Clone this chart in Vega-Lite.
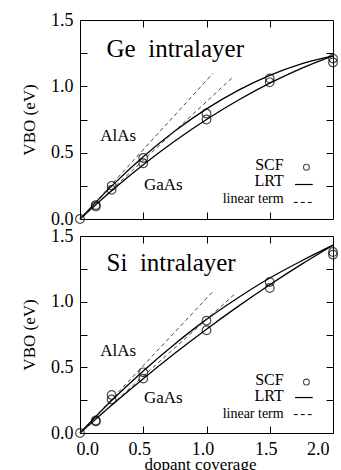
{
  "$schema": "https://vega.github.io/schema/vega-lite/v6.json",
  "padding": {"left": 20, "top": 10, "right": 3, "bottom": 0},
  "spacing": 17,
  "bounds": "flush",
  "config": {
    "font": "Liberation Serif",
    "view": {"stroke": "black", "strokeWidth": 1},
    "axis": {"domain": false, "grid": false, "tickColor": "black", "labelColor": "black", "titleColor": "black", "labelFont": "Liberation Serif", "titleFont": "Liberation Serif", "labelFontSize": 18, "titleFontSize": 17, "titleFontWeight": "normal"},
    "text": {"font": "Liberation Serif", "color": "black"}
  },
  "datasets": {
    "curves": [
      {"panel": "Ge", "sub": "AlAs", "x": 0, "vbo": 0},
      {"panel": "Ge", "sub": "AlAs", "x": 0.25, "vbo": 0.248},
      {"panel": "Ge", "sub": "AlAs", "x": 0.5, "vbo": 0.469},
      {"panel": "Ge", "sub": "AlAs", "x": 0.75, "vbo": 0.663},
      {"panel": "Ge", "sub": "AlAs", "x": 1.0, "vbo": 0.83},
      {"panel": "Ge", "sub": "AlAs", "x": 1.25, "vbo": 0.97},
      {"panel": "Ge", "sub": "AlAs", "x": 1.5, "vbo": 1.083},
      {"panel": "Ge", "sub": "AlAs", "x": 1.75, "vbo": 1.17},
      {"panel": "Ge", "sub": "AlAs", "x": 2.0, "vbo": 1.23},
      {"panel": "Ge", "sub": "GaAs", "x": 0, "vbo": 0},
      {"panel": "Ge", "sub": "GaAs", "x": 0.25, "vbo": 0.213},
      {"panel": "Ge", "sub": "GaAs", "x": 0.5, "vbo": 0.409},
      {"panel": "Ge", "sub": "GaAs", "x": 0.75, "vbo": 0.588},
      {"panel": "Ge", "sub": "GaAs", "x": 1.0, "vbo": 0.75},
      {"panel": "Ge", "sub": "GaAs", "x": 1.25, "vbo": 0.895},
      {"panel": "Ge", "sub": "GaAs", "x": 1.5, "vbo": 1.024},
      {"panel": "Ge", "sub": "GaAs", "x": 1.75, "vbo": 1.136},
      {"panel": "Ge", "sub": "GaAs", "x": 2.0, "vbo": 1.23},
      {"panel": "Si", "sub": "AlAs", "x": 0, "vbo": 0},
      {"panel": "Si", "sub": "AlAs", "x": 0.25, "vbo": 0.247},
      {"panel": "Si", "sub": "AlAs", "x": 0.5, "vbo": 0.472},
      {"panel": "Si", "sub": "AlAs", "x": 0.75, "vbo": 0.678},
      {"panel": "Si", "sub": "AlAs", "x": 1.0, "vbo": 0.865},
      {"panel": "Si", "sub": "AlAs", "x": 1.25, "vbo": 1.03},
      {"panel": "Si", "sub": "AlAs", "x": 1.5, "vbo": 1.18},
      {"panel": "Si", "sub": "AlAs", "x": 1.75, "vbo": 1.31},
      {"panel": "Si", "sub": "AlAs", "x": 2.0, "vbo": 1.43},
      {"panel": "Si", "sub": "GaAs", "x": 0, "vbo": 0},
      {"panel": "Si", "sub": "GaAs", "x": 0.25, "vbo": 0.212},
      {"panel": "Si", "sub": "GaAs", "x": 0.5, "vbo": 0.414},
      {"panel": "Si", "sub": "GaAs", "x": 0.75, "vbo": 0.607},
      {"panel": "Si", "sub": "GaAs", "x": 1.0, "vbo": 0.79},
      {"panel": "Si", "sub": "GaAs", "x": 1.25, "vbo": 0.964},
      {"panel": "Si", "sub": "GaAs", "x": 1.5, "vbo": 1.129},
      {"panel": "Si", "sub": "GaAs", "x": 1.75, "vbo": 1.284},
      {"panel": "Si", "sub": "GaAs", "x": 2.0, "vbo": 1.43}
    ],
    "lin": [
      {"panel": "Ge", "sub": "AlAs", "x": 0, "vbo": 0},
      {"panel": "Ge", "sub": "AlAs", "x": 1.05, "vbo": 1.097},
      {"panel": "Ge", "sub": "GaAs", "x": 0, "vbo": 0},
      {"panel": "Ge", "sub": "GaAs", "x": 1.2, "vbo": 1.062},
      {"panel": "Si", "sub": "AlAs", "x": 0, "vbo": 0},
      {"panel": "Si", "sub": "AlAs", "x": 1.06, "vbo": 1.087},
      {"panel": "Si", "sub": "GaAs", "x": 0, "vbo": 0},
      {"panel": "Si", "sub": "GaAs", "x": 1.22, "vbo": 1.055}
    ],
    "scf": [
      {"panel": "Ge", "sub": "AlAs", "x": 0, "vbo": 0},
      {"panel": "Ge", "sub": "AlAs", "x": 0.125, "vbo": 0.105},
      {"panel": "Ge", "sub": "AlAs", "x": 0.25, "vbo": 0.25},
      {"panel": "Ge", "sub": "AlAs", "x": 0.5, "vbo": 0.46},
      {"panel": "Ge", "sub": "AlAs", "x": 1.0, "vbo": 0.795},
      {"panel": "Ge", "sub": "AlAs", "x": 1.5, "vbo": 1.06},
      {"panel": "Ge", "sub": "AlAs", "x": 2.0, "vbo": 1.21},
      {"panel": "Ge", "sub": "GaAs", "x": 0.125, "vbo": 0.095},
      {"panel": "Ge", "sub": "GaAs", "x": 0.25, "vbo": 0.22},
      {"panel": "Ge", "sub": "GaAs", "x": 0.5, "vbo": 0.42},
      {"panel": "Ge", "sub": "GaAs", "x": 1.0, "vbo": 0.75},
      {"panel": "Ge", "sub": "GaAs", "x": 1.5, "vbo": 1.03},
      {"panel": "Ge", "sub": "GaAs", "x": 2.0, "vbo": 1.18},
      {"panel": "Si", "sub": "AlAs", "x": 0, "vbo": 0},
      {"panel": "Si", "sub": "AlAs", "x": 0.125, "vbo": 0.095},
      {"panel": "Si", "sub": "AlAs", "x": 0.25, "vbo": 0.29},
      {"panel": "Si", "sub": "AlAs", "x": 0.5, "vbo": 0.462},
      {"panel": "Si", "sub": "AlAs", "x": 1.0, "vbo": 0.855},
      {"panel": "Si", "sub": "AlAs", "x": 1.5, "vbo": 1.15},
      {"panel": "Si", "sub": "AlAs", "x": 2.0, "vbo": 1.378},
      {"panel": "Si", "sub": "GaAs", "x": 0.125, "vbo": 0.088},
      {"panel": "Si", "sub": "GaAs", "x": 0.25, "vbo": 0.255},
      {"panel": "Si", "sub": "GaAs", "x": 0.5, "vbo": 0.414},
      {"panel": "Si", "sub": "GaAs", "x": 1.0, "vbo": 0.782},
      {"panel": "Si", "sub": "GaAs", "x": 1.5, "vbo": 1.104},
      {"panel": "Si", "sub": "GaAs", "x": 2.0, "vbo": 1.358}
    ],
    "labels": [
      {"panel": "Ge", "role": "title", "text": "Ge\u00a0\u00a0intralayer", "x": 0.21, "y": 1.22},
      {"panel": "Ge", "role": "sub", "text": "AlAs", "x": 0.16, "y": 0.59},
      {"panel": "Ge", "role": "sub", "text": "GaAs", "x": 0.505, "y": 0.22},
      {"panel": "Ge", "role": "leg", "text": "SCF", "x": 1.61, "y": 0.37},
      {"panel": "Ge", "role": "leg", "text": "LRT", "x": 1.61, "y": 0.25},
      {"panel": "Ge", "role": "legsmall", "text": "linear term", "x": 1.61, "y": 0.12},
      {"panel": "Si", "role": "title", "text": "Si\u00a0\u00a0intralayer", "x": 0.21, "y": 1.23},
      {"panel": "Si", "role": "sub", "text": "AlAs", "x": 0.16, "y": 0.59},
      {"panel": "Si", "role": "sub", "text": "GaAs", "x": 0.505, "y": 0.23},
      {"panel": "Si", "role": "leg", "text": "SCF", "x": 1.61, "y": 0.368},
      {"panel": "Si", "role": "leg", "text": "LRT", "x": 1.61, "y": 0.244},
      {"panel": "Si", "role": "legsmall", "text": "linear term", "x": 1.61, "y": 0.114}
    ],
    "legsym": [
      {"panel": "Ge", "kind": "scf", "x": 1.79, "x2": 1.79, "y": 0.39},
      {"panel": "Ge", "kind": "lrt", "x": 1.70, "x2": 1.84, "y": 0.26},
      {"panel": "Ge", "kind": "lin", "x": 1.69, "x2": 1.84, "y": 0.125},
      {"panel": "Si", "kind": "scf", "x": 1.79, "x2": 1.79, "y": 0.388},
      {"panel": "Si", "kind": "lrt", "x": 1.70, "x2": 1.84, "y": 0.27},
      {"panel": "Si", "kind": "lin", "x": 1.69, "x2": 1.84, "y": 0.14}
    ]
  },
  "vconcat": [
    {
      "width": 253, "height": 199,
      "resolve": {"axis": {"x": "independent", "y": "independent"}},
      "layer": [
        {
          "data": {"name": "curves"},
          "transform": [{"filter": "datum.panel === 'Ge'"}],
          "mark": {"type": "line", "color": "black", "strokeWidth": 1.3, "interpolate": "monotone"},
          "encoding": {
            "x": {"field": "x", "type": "quantitative", "scale": {"domain": [0, 2], "nice": false}, "axis": {"orient": "bottom", "values": [0.5, 1, 1.5], "labels": false, "tickSize": -7, "title": null}},
            "y": {"field": "vbo", "type": "quantitative", "scale": {"domain": [0, 1.5], "nice": false}, "axis": {"orient": "left", "values": [0, 0.25, 0.5, 0.75, 1, 1.25, 1.5], "labelExpr": "datum.value % 0.5 === 0 ? format(datum.value, '.1f') : ''", "tickSize": -7, "labelPadding": 14, "title": "VBO (eV)", "titlePadding": 12}},
            "detail": {"field": "sub"}
          }
        },
        {
          "data": {"name": "lin"},
          "transform": [{"filter": "datum.panel === 'Ge'"}],
          "mark": {"type": "line", "color": "#333", "strokeWidth": 0.9, "strokeDash": [4, 3]},
          "encoding": {
            "x": {"field": "x", "type": "quantitative", "axis": {"orient": "top", "values": [0.5, 1, 1.5], "labels": false, "tickSize": -7, "title": null}},
            "y": {"field": "vbo", "type": "quantitative", "axis": {"orient": "right", "values": [0.25, 0.5, 0.75, 1, 1.25], "labels": false, "tickSize": -7, "title": null}},
            "detail": {"field": "sub"}
          }
        },
        {
          "data": {"name": "scf"},
          "transform": [{"filter": "datum.panel === 'Ge'"}],
          "mark": {"type": "point", "shape": "circle", "filled": false, "stroke": "black", "strokeWidth": 1.2, "size": 75},
          "encoding": {
            "x": {"field": "x", "type": "quantitative", "axis": null},
            "y": {"field": "vbo", "type": "quantitative", "axis": null}
          }
        },
        {
          "data": {"name": "labels"},
          "transform": [{"filter": "datum.panel === 'Ge' && datum.role === 'title'"}],
          "mark": {"type": "text", "align": "left", "baseline": "alphabetic", "fontSize": 25},
          "encoding": {
            "x": {"field": "x", "type": "quantitative", "axis": null},
            "y": {"field": "y", "type": "quantitative", "axis": null},
            "text": {"field": "text"}
          }
        },
        {
          "data": {"name": "labels"},
          "transform": [{"filter": "datum.panel === 'Ge' && datum.role === 'sub'"}],
          "mark": {"type": "text", "align": "left", "baseline": "alphabetic", "fontSize": 17},
          "encoding": {
            "x": {"field": "x", "type": "quantitative", "axis": null},
            "y": {"field": "y", "type": "quantitative", "axis": null},
            "text": {"field": "text"}
          }
        },
        {
          "data": {"name": "labels"},
          "transform": [{"filter": "datum.panel === 'Ge' && datum.role === 'leg'"}],
          "mark": {"type": "text", "align": "right", "baseline": "alphabetic", "fontSize": 16},
          "encoding": {
            "x": {"field": "x", "type": "quantitative", "axis": null},
            "y": {"field": "y", "type": "quantitative", "axis": null},
            "text": {"field": "text"}
          }
        },
        {
          "data": {"name": "labels"},
          "transform": [{"filter": "datum.panel === 'Ge' && datum.role === 'legsmall'"}],
          "mark": {"type": "text", "align": "right", "baseline": "alphabetic", "fontSize": 14},
          "encoding": {
            "x": {"field": "x", "type": "quantitative", "axis": null},
            "y": {"field": "y", "type": "quantitative", "axis": null},
            "text": {"field": "text"}
          }
        },
        {
          "data": {"name": "legsym"},
          "transform": [{"filter": "datum.panel === 'Ge' && datum.kind === 'scf'"}],
          "mark": {"type": "point", "shape": "circle", "filled": false, "stroke": "black", "strokeWidth": 1.1, "size": 35},
          "encoding": {
            "x": {"field": "x", "type": "quantitative", "axis": null},
            "y": {"field": "y", "type": "quantitative", "axis": null}
          }
        },
        {
          "data": {"name": "legsym"},
          "transform": [{"filter": "datum.panel === 'Ge' && datum.kind === 'lrt'"}],
          "mark": {"type": "rule", "color": "black", "strokeWidth": 1.2},
          "encoding": {
            "x": {"field": "x", "type": "quantitative", "axis": null},
            "x2": {"field": "x2"},
            "y": {"field": "y", "type": "quantitative", "axis": null}
          }
        },
        {
          "data": {"name": "legsym"},
          "transform": [{"filter": "datum.panel === 'Ge' && datum.kind === 'lin'"}],
          "mark": {"type": "rule", "color": "black", "strokeWidth": 1, "strokeDash": [4, 3]},
          "encoding": {
            "x": {"field": "x", "type": "quantitative", "axis": null},
            "x2": {"field": "x2"},
            "y": {"field": "y", "type": "quantitative", "axis": null}
          }
        }
      ]
    },
    {
      "width": 253, "height": 197,
      "resolve": {"axis": {"x": "independent", "y": "independent"}},
      "layer": [
        {
          "data": {"name": "curves"},
          "transform": [{"filter": "datum.panel === 'Si'"}],
          "mark": {"type": "line", "color": "black", "strokeWidth": 1.3, "interpolate": "monotone"},
          "encoding": {
            "x": {"field": "x", "type": "quantitative", "scale": {"domain": [0, 2], "nice": false}, "axis": {"orient": "bottom", "values": [0, 0.5, 1, 1.5, 2], "format": ".1f", "tickSize": -7, "labelPadding": 14, "labelOffset": -4, "title": "dopant coverage", "titleX": 120, "titleY": 36, "titleBaseline": "alphabetic"}},
            "y": {"field": "vbo", "type": "quantitative", "scale": {"domain": [0, 1.5], "nice": false}, "axis": {"orient": "left", "values": [0, 0.25, 0.5, 0.75, 1, 1.25, 1.5], "labelExpr": "datum.value % 0.5 === 0 ? format(datum.value, '.1f') : ''", "tickSize": -7, "labelPadding": 14, "title": "VBO (eV)", "titlePadding": 12}},
            "detail": {"field": "sub"}
          }
        },
        {
          "data": {"name": "lin"},
          "transform": [{"filter": "datum.panel === 'Si'"}],
          "mark": {"type": "line", "color": "#333", "strokeWidth": 0.9, "strokeDash": [4, 3]},
          "encoding": {
            "x": {"field": "x", "type": "quantitative", "axis": {"orient": "top", "values": [0.5, 1, 1.5], "labels": false, "tickSize": -7, "title": null}},
            "y": {"field": "vbo", "type": "quantitative", "axis": {"orient": "right", "values": [0.25, 0.5, 0.75, 1, 1.25], "labels": false, "tickSize": -7, "title": null}},
            "detail": {"field": "sub"}
          }
        },
        {
          "data": {"name": "scf"},
          "transform": [{"filter": "datum.panel === 'Si'"}],
          "mark": {"type": "point", "shape": "circle", "filled": false, "stroke": "black", "strokeWidth": 1.2, "size": 75},
          "encoding": {
            "x": {"field": "x", "type": "quantitative", "axis": null},
            "y": {"field": "vbo", "type": "quantitative", "axis": null}
          }
        },
        {
          "data": {"name": "labels"},
          "transform": [{"filter": "datum.panel === 'Si' && datum.role === 'title'"}],
          "mark": {"type": "text", "align": "left", "baseline": "alphabetic", "fontSize": 25},
          "encoding": {
            "x": {"field": "x", "type": "quantitative", "axis": null},
            "y": {"field": "y", "type": "quantitative", "axis": null},
            "text": {"field": "text"}
          }
        },
        {
          "data": {"name": "labels"},
          "transform": [{"filter": "datum.panel === 'Si' && datum.role === 'sub'"}],
          "mark": {"type": "text", "align": "left", "baseline": "alphabetic", "fontSize": 17},
          "encoding": {
            "x": {"field": "x", "type": "quantitative", "axis": null},
            "y": {"field": "y", "type": "quantitative", "axis": null},
            "text": {"field": "text"}
          }
        },
        {
          "data": {"name": "labels"},
          "transform": [{"filter": "datum.panel === 'Si' && datum.role === 'leg'"}],
          "mark": {"type": "text", "align": "right", "baseline": "alphabetic", "fontSize": 16},
          "encoding": {
            "x": {"field": "x", "type": "quantitative", "axis": null},
            "y": {"field": "y", "type": "quantitative", "axis": null},
            "text": {"field": "text"}
          }
        },
        {
          "data": {"name": "labels"},
          "transform": [{"filter": "datum.panel === 'Si' && datum.role === 'legsmall'"}],
          "mark": {"type": "text", "align": "right", "baseline": "alphabetic", "fontSize": 14},
          "encoding": {
            "x": {"field": "x", "type": "quantitative", "axis": null},
            "y": {"field": "y", "type": "quantitative", "axis": null},
            "text": {"field": "text"}
          }
        },
        {
          "data": {"name": "legsym"},
          "transform": [{"filter": "datum.panel === 'Si' && datum.kind === 'scf'"}],
          "mark": {"type": "point", "shape": "circle", "filled": false, "stroke": "black", "strokeWidth": 1.1, "size": 35},
          "encoding": {
            "x": {"field": "x", "type": "quantitative", "axis": null},
            "y": {"field": "y", "type": "quantitative", "axis": null}
          }
        },
        {
          "data": {"name": "legsym"},
          "transform": [{"filter": "datum.panel === 'Si' && datum.kind === 'lrt'"}],
          "mark": {"type": "rule", "color": "black", "strokeWidth": 1.2},
          "encoding": {
            "x": {"field": "x", "type": "quantitative", "axis": null},
            "x2": {"field": "x2"},
            "y": {"field": "y", "type": "quantitative", "axis": null}
          }
        },
        {
          "data": {"name": "legsym"},
          "transform": [{"filter": "datum.panel === 'Si' && datum.kind === 'lin'"}],
          "mark": {"type": "rule", "color": "black", "strokeWidth": 1, "strokeDash": [4, 3]},
          "encoding": {
            "x": {"field": "x", "type": "quantitative", "axis": null},
            "x2": {"field": "x2"},
            "y": {"field": "y", "type": "quantitative", "axis": null}
          }
        }
      ]
    }
  ]
}
